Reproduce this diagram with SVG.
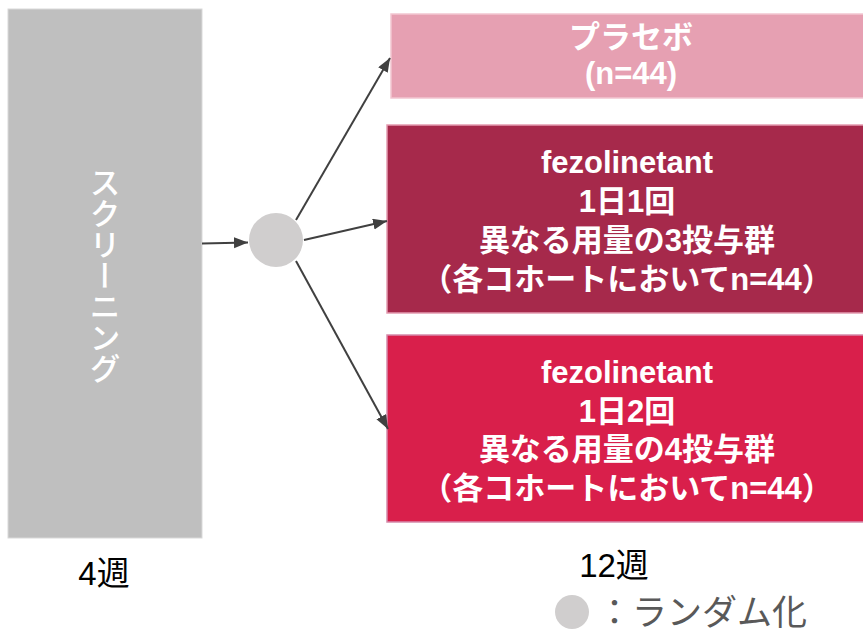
<svg xmlns="http://www.w3.org/2000/svg" width="863" height="630" viewBox="0 0 863 630">
<defs>
<style>
.box-text{font-family:"Liberation Sans","Noto Sans CJK JP",sans-serif;font-weight:bold;font-size:31px;fill:#FFFFFF;text-anchor:middle}
.lbl{font-family:"Liberation Sans","Noto Sans CJK JP",sans-serif;font-size:33px;fill:#000000;text-anchor:middle}
.conn{stroke:#404040;stroke-width:2;fill:none;marker-end:url(#arr)}
</style>
<marker id="arr" markerUnits="userSpaceOnUse" markerWidth="16" markerHeight="12" refX="14" refY="5.5" orient="auto">
<path d="M0,0 L14,5.5 L0,11 z" fill="#404040"/>
</marker>
</defs>
<rect width="863" height="630" fill="#FFFFFF"/>

<g id="screening">
<rect x="8" y="9" width="194" height="529" fill="#BFBFBF" stroke="#D9D9D9" stroke-width="1"/>
<text x="105" y="275" font-family="Noto Sans CJK JP, sans-serif" font-size="31" font-weight="500" fill="#FFFFFF" text-anchor="middle" writing-mode="vertical-rl">スクリーニング</text>
</g>

<g id="randomization">
<circle cx="276" cy="240" r="27" fill="#D0CECE"/>
</g>

<g id="placebo">
<rect x="391" y="14" width="480" height="84" fill="#E6A0B2" stroke="#F2C6D1" stroke-width="1.5"/>
<text class="box-text" x="631" y="48">プラセボ</text>
<text class="box-text" x="631" y="84">(n=44)</text>
</g>

<g id="once-daily">
<rect x="387" y="125" width="484" height="188" fill="#A6294B" stroke="#E39BB0" stroke-width="1.5"/>
<text class="box-text" x="627" y="173">fezolinetant</text>
<text class="box-text" x="627" y="212">1日1回</text>
<text class="box-text" x="627" y="251">異なる用量の3投与群</text>
<text class="box-text" x="627" y="289.5">（各コホートにおいてn=44）</text>
</g>

<g id="twice-daily">
<rect x="387" y="335" width="484" height="187" fill="#D91F4B" stroke="#D58AAA" stroke-width="1.5"/>
<text class="box-text" x="627" y="382.5">fezolinetant</text>
<text class="box-text" x="627" y="421.5">1日2回</text>
<text class="box-text" x="627" y="460">異なる用量の4投与群</text>
<text class="box-text" x="627" y="498.5">（各コホートにおいてn=44）</text>
</g>

<g id="connectors">
<line class="conn" x1="202" y1="243.5" x2="248" y2="242.5"/>
<line class="conn" x1="296" y1="220" x2="390" y2="58"/>
<line class="conn" x1="304" y1="240" x2="387" y2="221"/>
<line class="conn" x1="296" y1="261" x2="388" y2="429"/>
</g>

<g id="labels">
<text class="lbl" x="104" y="585">4週</text>
<text class="lbl" x="614" y="577">12週</text>
</g>

<g id="legend">
<circle cx="572" cy="612" r="17" fill="#D0CECE"/>
<text x="597" y="625" font-family="Noto Sans CJK JP, sans-serif" font-size="35" fill="#595959">：ランダム化</text>
</g>
</svg>
